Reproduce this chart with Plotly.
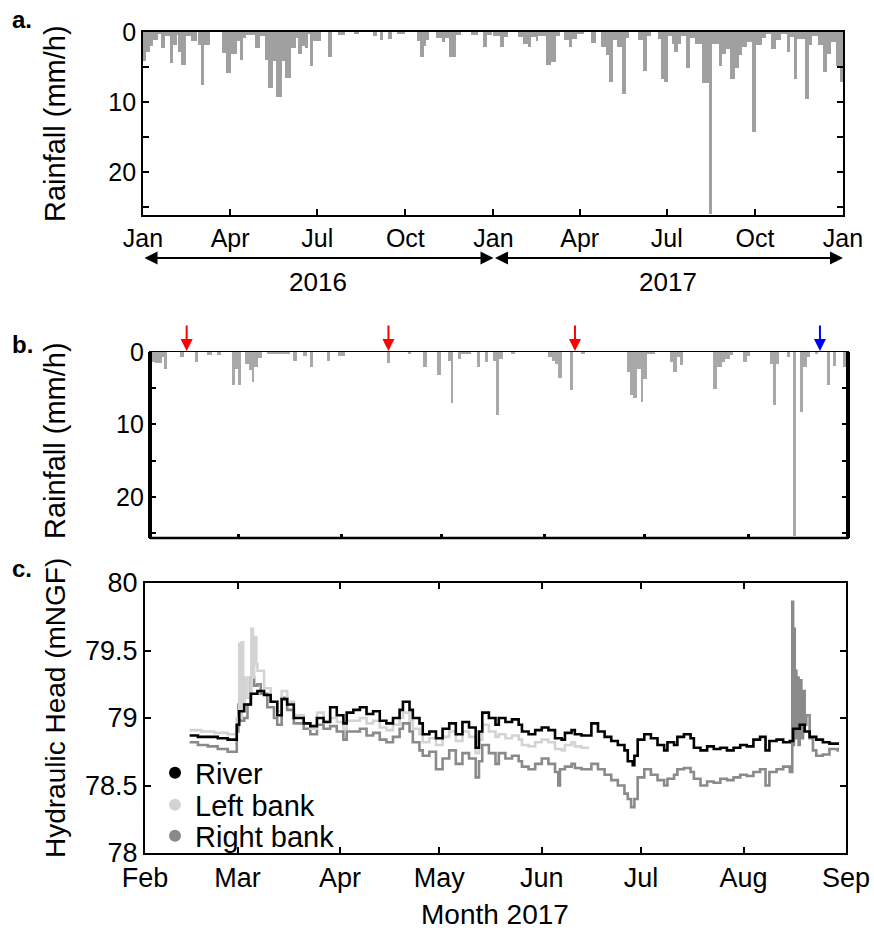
import plotly.graph_objects as go
import pandas as pd

# ---------------- data ----------------
# Panel a: rainfall 2016-2017, step change points (start date, mm/h)
rain_a_dates = [
    "2016-01-01", "2016-01-04", "2016-01-08", "2016-01-11", "2016-01-17", "2016-01-20", "2016-01-24",
    "2016-01-29", "2016-02-01", "2016-02-05", "2016-02-07", "2016-02-10", "2016-02-15", "2016-02-20",
    "2016-02-26", "2016-02-27", "2016-03-02", "2016-03-05", "2016-03-11", "2016-03-23", "2016-03-28",
    "2016-04-02", "2016-04-08", "2016-04-11", "2016-04-14", "2016-04-18", "2016-04-27", "2016-05-02",
    "2016-05-07", "2016-05-11", "2016-05-16", "2016-05-19", "2016-05-25", "2016-05-28", "2016-06-04",
    "2016-06-09", "2016-06-11", "2016-06-15", "2016-06-18", "2016-06-21", "2016-06-23", "2016-06-27",
    "2016-07-05", "2016-07-12", "2016-07-16", "2016-07-23", "2016-07-30", "2016-08-08", "2016-08-14",
    "2016-08-28", "2016-09-01", "2016-09-04", "2016-09-08", "2016-09-13", "2016-09-17", "2016-09-22",
    "2016-10-01", "2016-10-13", "2016-10-16", "2016-10-20", "2016-10-23", "2016-10-26", "2016-11-02",
    "2016-11-08", "2016-11-11", "2016-11-16", "2016-11-23", "2016-11-28", "2016-12-09", "2016-12-16",
    "2016-12-21", "2016-12-25", "2016-12-30",
    "2017-01-01", "2017-01-08", "2017-01-12", "2017-01-16", "2017-01-27", "2017-02-01", "2017-02-06",
    "2017-02-09", "2017-02-14", "2017-02-17", "2017-02-25", "2017-03-02", "2017-03-07", "2017-03-11",
    "2017-03-16", "2017-03-21", "2017-03-24", "2017-03-29", "2017-04-06", "2017-04-13", "2017-04-18",
    "2017-04-23", "2017-04-28", "2017-05-02", "2017-05-06", "2017-05-10", "2017-05-15", "2017-05-19",
    "2017-05-23", "2017-06-01", "2017-06-06", "2017-06-10", "2017-06-14", "2017-06-22", "2017-06-25",
    "2017-06-28", "2017-07-02", "2017-07-06", "2017-07-09", "2017-07-13", "2017-07-16", "2017-07-21",
    "2017-07-25", "2017-07-30", "2017-08-03", "2017-08-07", "2017-08-14", "2017-08-17", "2017-08-24",
    "2017-08-28", "2017-09-01", "2017-09-05", "2017-09-10", "2017-09-14", "2017-09-18", "2017-09-23",
    "2017-09-28", "2017-10-02", "2017-10-08", "2017-10-13", "2017-10-18", "2017-10-23", "2017-10-28",
    "2017-11-03", "2017-11-07", "2017-11-11", "2017-11-14", "2017-11-22", "2017-11-26", "2017-11-30",
    "2017-12-06", "2017-12-11", "2017-12-15", "2017-12-19", "2017-12-25", "2017-12-29",
]
rain_a_mm = [
    4.2, 2.8, 2.0, 1.1, 0.3, 2.3, 0.6,
    4.4, 1.8, 0.4, 2.8, 4.7, 0.6, 1.3,
    0.0, 1.8, 7.6, 1.8, 0.0, 3.0, 5.9,
    3.2, 1.3, 4.0, 0.9, 0.4, 2.3, 0.6,
    4.0, 8.0, 4.2, 9.3, 4.2, 6.5, 2.3,
    0.9, 3.2, 2.0, 2.3, 0.3, 4.9, 1.3,
    0.0, 3.5, 0.0, 0.4, 0.0, 0.2, 0.0,
    0.6, 0.0, 1.2, 0.0, 1.0, 0.0, 0.2,
    0.0, 1.3, 3.5, 2.0, 1.1, 0.0, 0.85,
    1.4, 0.8, 3.5, 0.4, 0.0, 0.4, 0.0,
    2.2, 0.4, 0.0,
    0.5, 2.2, 0.7, 0.0, 0.7, 1.7, 2.2,
    0.7, 1.3, 0.5, 4.7, 4.3, 0.5, 0.0,
    1.2, 2.1, 1.0, 0.3, 0.0, 1.5, 0.0,
    2.1, 3.3, 7.2, 1.2, 2.1, 8.8, 0.9,
    0.0, 1.2, 5.5, 0.5, 0.0, 1.0, 6.7,
    7.1, 0.5, 1.7, 2.9, 1.7, 0.5, 5.2,
    0.9, 1.7, 1.7, 7.3, 26.0, 1.7, 4.8,
    3.1, 2.4, 6.7, 5.2, 3.3, 2.1, 1.4,
    14.2, 1.9, 0.9, 0.3, 2.4, 1.2, 0.3,
    2.9, 0.7, 6.7, 1.0, 9.6, 1.9, 0.5,
    1.9, 5.7, 3.1, 1.4, 4.8, 7.1,
]
rain_a_end = "2018-01-01"

# Panel b: rainfall Feb-Aug 2017, step change points (start, mm/h)
rain_b_dates = [
    "2017-02-02 19:00", "2017-02-04 02:00", "2017-02-06 02:00", "2017-02-06 19:00", "2017-02-07 19:00",
    "2017-02-11 14:00", "2017-02-12 19:00", "2017-02-16 02:00", "2017-02-16 22:00",
    "2017-02-19 14:00", "2017-02-21 02:00", "2017-02-22 19:00", "2017-02-23 19:00",
    "2017-02-27 02:00", "2017-02-28 02:00", "2017-03-01 00:00", "2017-03-01 20:00",
    "2017-03-03 02:00", "2017-03-04 07:00", "2017-03-05 02:00", "2017-03-05 22:00", "2017-03-07 02:00",
    "2017-03-08 02:00", "2017-03-09 14:00", "2017-03-16 14:00", "2017-03-17 14:00", "2017-03-18 16:00",
    "2017-03-20 14:00", "2017-03-21 14:00", "2017-03-22 14:00", "2017-03-23 12:00",
    "2017-03-27 14:00", "2017-03-28 14:00", "2017-03-31 00:00", "2017-04-02 00:00",
    "2017-04-14 14:00", "2017-04-15 14:00", "2017-04-21 00:00", "2017-04-22 00:00",
    "2017-04-25 12:00", "2017-04-26 14:00", "2017-04-29 14:00", "2017-04-30 19:00",
    "2017-05-03 00:00", "2017-05-03 19:00", "2017-05-04 14:00", "2017-05-06 00:00", "2017-05-07 00:00",
    "2017-05-10 00:00", "2017-05-11 16:00", "2017-05-12 16:00", "2017-05-14 00:00", "2017-05-15 00:00",
    "2017-05-16 12:00", "2017-05-17 12:00", "2017-05-18 10:00", "2017-05-19 12:00",
    "2017-05-22 00:00", "2017-05-23 00:00",
    "2017-06-02 02:00", "2017-06-03 02:00", "2017-06-04 02:00", "2017-06-05 02:00", "2017-06-06 02:00",
    "2017-06-08 14:00", "2017-06-09 10:00", "2017-06-12 00:00", "2017-06-13 00:00",
    "2017-06-25 14:00", "2017-06-26 14:00", "2017-06-27 14:00", "2017-06-28 14:00", "2017-06-29 19:00",
    "2017-06-30 14:00", "2017-07-01 14:00", "2017-07-04 00:00",
    "2017-07-08 14:00", "2017-07-09 14:00", "2017-07-10 14:00", "2017-07-11 14:00", "2017-07-12 14:00",
    "2017-07-21 14:00", "2017-07-22 14:00", "2017-07-24 02:00", "2017-07-25 02:00", "2017-07-26 14:00",
    "2017-07-27 14:00", "2017-07-30 14:00", "2017-07-31 14:00", "2017-08-01 14:00",
    "2017-08-07 14:00", "2017-08-08 14:00", "2017-08-09 10:00", "2017-08-10 10:00",
    "2017-08-12 14:00", "2017-08-13 14:00", "2017-08-14 10:00", "2017-08-15 10:00",
    "2017-08-16 14:00", "2017-08-17 14:00", "2017-08-18 14:00", "2017-08-19 14:00",
    "2017-08-21 02:00", "2017-08-22 02:00", "2017-08-24 14:00", "2017-08-25 14:00",
    "2017-08-26 14:00", "2017-08-27 10:00", "2017-08-29 10:00", "2017-08-30 10:00",
]
rain_b_mm = [
    1.4, 1.5, 0.7, 2.3, 0.0,
    0.7, 0.0, 1.4, 0.0,
    0.4, 0.0, 0.4, 0.0,
    4.6, 2.3, 4.5, 0.0,
    1.6, 2.5, 4.2, 2.1, 0.8,
    0.0, 0.2, 0.0, 1.3, 0.0,
    0.6, 0.0, 2.1, 0.0,
    1.2, 0.0, 0.5, 0.0,
    1.5, 0.0, 0.2, 0.0,
    2.1, 0.0, 3.2, 0.0,
    1.2, 7.0, 0.0, 1.0, 0.3,
    0.0, 2.1, 0.0, 1.4, 0.0,
    1.2, 8.7, 0.9, 0.0,
    0.2, 0.0,
    0.7, 1.2, 1.6, 3.6, 0.0,
    5.3, 0.0, 0.2, 0.0,
    2.8, 6.0, 6.3, 2.3, 6.9,
    3.7, 0.2, 0.0,
    1.4, 2.7, 0.7, 1.8, 0.0,
    5.1, 2.1, 1.4, 0.9, 0.4,
    0.0, 1.4, 0.5, 0.0,
    1.6, 7.3, 1.6, 0.0,
    0.7, 0.0, 25.4, 0.0,
    8.3, 2.1, 0.7, 0.0,
    0.2, 0.0, 4.6, 0.0,
    1.9, 0.0, 2.1, 0.0,
]

# Panel c: hydraulic head (mNGF), step change points
river_dates = [
    "2017-02-14 12:00", "2017-02-17", "2017-02-20", "2017-02-23", "2017-02-26", "2017-02-28 18:00",
    "2017-03-01 12:00", "2017-03-03", "2017-03-05", "2017-03-07", "2017-03-09", "2017-03-11", "2017-03-13",
    "2017-03-14 08:00", "2017-03-16", "2017-03-18", "2017-03-21", "2017-03-23", "2017-03-25", "2017-03-27",
    "2017-03-29", "2017-03-31", "2017-04-02", "2017-04-03", "2017-04-05", "2017-04-07", "2017-04-09",
    "2017-04-11", "2017-04-13", "2017-04-15", "2017-04-17", "2017-04-19", "2017-04-20", "2017-04-22",
    "2017-04-23", "2017-04-25", "2017-04-26", "2017-04-28", "2017-04-30", "2017-05-02", "2017-05-04",
    "2017-05-06", "2017-05-08", "2017-05-10", "2017-05-12", "2017-05-13", "2017-05-14", "2017-05-16",
    "2017-05-18", "2017-05-19", "2017-05-21", "2017-05-23", "2017-05-25", "2017-05-26", "2017-05-28",
    "2017-05-30", "2017-06-01", "2017-06-03", "2017-06-05", "2017-06-07", "2017-06-08", "2017-06-10",
    "2017-06-11", "2017-06-13", "2017-06-16", "2017-06-18", "2017-06-20", "2017-06-22", "2017-06-24",
    "2017-06-26", "2017-06-27", "2017-06-28 12:00", "2017-06-29", "2017-06-30", "2017-07-02", "2017-07-04",
    "2017-07-06", "2017-07-08", "2017-07-09", "2017-07-11", "2017-07-12", "2017-07-14", "2017-07-16",
    "2017-07-17", "2017-07-19", "2017-07-21", "2017-07-23", "2017-07-25", "2017-07-27", "2017-07-29",
    "2017-07-31", "2017-08-02", "2017-08-04", "2017-08-06", "2017-08-07 16:00", "2017-08-08 20:00",
    "2017-08-11", "2017-08-13", "2017-08-15", "2017-08-16", "2017-08-18", "2017-08-19 12:00", "2017-08-21",
    "2017-08-23", "2017-08-25", "2017-08-27", "2017-08-29 12:00",
]
river_head = [
    78.87, 78.86, 78.86, 78.85, 78.84, 78.95,
    79.05, 79.10, 79.18, 79.20, 79.17, 79.12, 79.02,
    79.14, 79.10, 79.00, 78.96, 78.94, 79.00, 78.97,
    79.08, 79.02, 78.96, 79.04, 79.06, 79.08, 79.03,
    79.05, 78.98, 78.96, 79.00, 79.06, 79.12, 79.06,
    79.00, 78.96, 78.88, 78.90, 78.85, 78.92, 78.96,
    78.88, 78.97, 78.93, 78.78, 78.90, 79.04, 79.00,
    78.95, 79.00, 78.97, 78.99, 78.95, 78.90, 78.88,
    78.91, 78.93, 78.91, 78.85, 78.84, 78.89, 78.91,
    78.88, 78.87, 78.96, 78.90, 78.86, 78.83, 78.80,
    78.76, 78.68, 78.65, 78.72, 78.84, 78.88, 78.85,
    78.80, 78.76, 78.82, 78.80, 78.86, 78.88, 78.85,
    78.78, 78.76, 78.79, 78.77, 78.78, 78.76, 78.78,
    78.80, 78.79, 78.84, 78.86, 78.76, 78.83,
    78.84, 78.82, 78.83, 78.92, 78.95, 78.90, 78.86,
    78.84, 78.82, 78.81, 78.80,
]

left_dates = [
    "2017-02-14 12:00", "2017-02-18", "2017-02-22", "2017-02-26", "2017-02-28 18:00", "2017-03-01 12:00",
    "2017-03-01 20:00", "2017-03-02 06:00", "2017-03-02 16:00", "2017-03-03 04:00", "2017-03-04",
    "2017-03-05 04:00", "2017-03-05 16:00", "2017-03-06", "2017-03-06 16:00", "2017-03-07", "2017-03-09",
    "2017-03-11", "2017-03-13", "2017-03-14 08:00", "2017-03-16", "2017-03-18", "2017-03-21", "2017-03-23",
    "2017-03-25", "2017-03-27", "2017-03-29", "2017-03-31", "2017-04-02", "2017-04-03", "2017-04-07",
    "2017-04-09", "2017-04-11", "2017-04-13", "2017-04-15", "2017-04-17", "2017-04-19", "2017-04-20",
    "2017-04-22", "2017-04-23", "2017-04-25", "2017-04-26", "2017-04-28", "2017-04-30", "2017-05-02",
    "2017-05-04", "2017-05-06", "2017-05-08", "2017-05-10", "2017-05-12", "2017-05-13", "2017-05-14",
    "2017-05-16", "2017-05-18", "2017-05-19", "2017-05-21", "2017-05-23", "2017-05-25", "2017-05-26",
    "2017-05-28", "2017-05-30", "2017-06-01", "2017-06-03", "2017-06-05", "2017-06-07", "2017-06-08",
    "2017-06-10", "2017-06-11", "2017-06-13", "2017-06-15 08:00",
]
left_head = [
    78.91, 78.90, 78.89, 78.88, 79.00, 79.55,
    79.00, 79.56, 79.10, 79.30, 79.15,
    79.66, 79.30, 79.60, 79.40, 79.35, 79.22,
    79.12, 79.05, 79.20, 79.12, 79.02, 78.96, 78.92,
    79.04, 78.98, 79.00, 78.97, 78.92, 78.98, 79.00,
    78.96, 78.98, 78.93, 78.91, 78.95, 79.00, 79.04,
    78.98, 78.92, 78.88, 78.82, 78.85, 78.80, 78.86,
    78.90, 78.83, 78.90, 78.86, 78.74, 78.84, 78.95,
    78.90, 78.86, 78.88, 78.85, 78.87, 78.84, 78.80,
    78.79, 78.82, 78.84, 78.82, 78.77, 78.76, 78.80,
    78.82, 78.79, 78.78, 78.78,
]

right_dates = [
    "2017-02-14 12:00", "2017-02-17", "2017-02-20", "2017-02-23", "2017-02-26", "2017-02-28 18:00",
    "2017-03-01 06:00", "2017-03-02", "2017-03-03", "2017-03-04", "2017-03-05", "2017-03-06", "2017-03-07",
    "2017-03-08", "2017-03-10", "2017-03-12", "2017-03-13", "2017-03-14 08:00", "2017-03-16", "2017-03-18",
    "2017-03-21", "2017-03-23", "2017-03-25", "2017-03-27", "2017-03-29", "2017-03-31", "2017-04-02",
    "2017-04-03", "2017-04-07", "2017-04-09", "2017-04-11", "2017-04-13", "2017-04-15", "2017-04-17",
    "2017-04-19", "2017-04-20", "2017-04-22", "2017-04-23", "2017-04-25", "2017-04-26", "2017-04-28",
    "2017-04-30", "2017-05-02", "2017-05-04", "2017-05-06", "2017-05-08", "2017-05-10", "2017-05-12",
    "2017-05-13", "2017-05-14", "2017-05-16", "2017-05-18", "2017-05-19", "2017-05-21", "2017-05-23",
    "2017-05-25", "2017-05-26", "2017-05-28", "2017-05-30", "2017-06-01", "2017-06-03", "2017-06-05",
    "2017-06-06", "2017-06-06 12:00", "2017-06-08", "2017-06-10", "2017-06-11", "2017-06-13", "2017-06-16",
    "2017-06-18", "2017-06-20", "2017-06-22", "2017-06-24", "2017-06-26", "2017-06-27", "2017-06-28",
    "2017-06-29", "2017-06-30", "2017-07-02", "2017-07-04", "2017-07-06", "2017-07-08", "2017-07-09",
    "2017-07-11", "2017-07-12", "2017-07-14", "2017-07-16", "2017-07-17", "2017-07-19", "2017-07-21",
    "2017-07-23", "2017-07-25", "2017-07-27", "2017-07-29", "2017-07-31", "2017-08-02", "2017-08-04",
    "2017-08-06", "2017-08-07 16:00", "2017-08-08 20:00", "2017-08-11", "2017-08-13", "2017-08-15",
    "2017-08-15 18:00", "2017-08-16 00:00", "2017-08-16 06:00", "2017-08-16 12:00", "2017-08-16 18:00",
    "2017-08-17 00:00", "2017-08-17 08:00", "2017-08-17 16:00", "2017-08-18 00:00", "2017-08-18 12:00",
    "2017-08-19 00:00", "2017-08-19 12:00", "2017-08-20", "2017-08-21", "2017-08-22", "2017-08-23",
    "2017-08-25", "2017-08-27", "2017-08-29 12:00",
]
right_head = [
    78.82, 78.80, 78.79, 78.77, 78.75, 78.90,
    79.10, 78.98, 79.00, 79.10, 79.30, 79.24, 79.25,
    79.18, 79.08, 79.00, 78.95, 79.15, 79.06, 78.96,
    78.92, 78.88, 78.95, 78.92, 78.94, 78.90, 78.84,
    78.90, 78.92, 78.87, 78.89, 78.84, 78.82, 78.86,
    78.92, 78.96, 78.90, 78.82, 78.76, 78.72, 78.75,
    78.62, 78.70, 78.76, 78.66, 78.74, 78.70, 78.56,
    78.68, 78.80, 78.74, 78.66, 78.74, 78.70, 78.72,
    78.68, 78.64, 78.62, 78.66, 78.70, 78.66, 78.60,
    78.50, 78.62, 78.64, 78.66, 78.63, 78.62, 78.66,
    78.62, 78.58, 78.54, 78.50, 78.44, 78.40, 78.34,
    78.40, 78.56, 78.62, 78.58, 78.54, 78.50, 78.55,
    78.58, 78.62, 78.63, 78.60, 78.55, 78.50, 78.53,
    78.52, 78.55, 78.54, 78.56, 78.58, 78.57, 78.60,
    78.62, 78.50, 78.60, 78.62, 78.64, 78.60,
    79.86, 78.80, 79.66, 78.90, 79.35,
    78.85, 79.30, 78.80, 79.28, 78.85,
    79.20, 78.95, 79.02, 78.85, 78.76, 78.72,
    78.73, 78.77, 78.75,
]

# ticks and labels
a_tick_dates = ["2016-01-01", "2016-04-01", "2016-07-01", "2016-10-01", "2017-01-01",
                "2017-04-01", "2017-07-01", "2017-10-01", "2018-01-01"]
a_tick_text = ["Jan", "Apr", "Jul", "Oct", "Jan", "Apr", "Jul", "Oct", "Jan"]
c_tick_dates = ["2017-02-01", "2017-03-01", "2017-04-01", "2017-05-01", "2017-06-01",
                "2017-07-01", "2017-08-01", "2017-09-01"]
c_tick_text = ["Feb", "Mar", "Apr", "May", "Jun", "Jul", "Aug", "Sep"]
rain_tickvals = [0, 5, 10, 15, 20, 25]
rain_ticktext = ["0", "", "10", "", "20", ""]
head_tickvals = [78, 78.5, 79, 79.5, 80]
head_ticktext = ["78", "78.5", "79", "79.5", "80"]
year_labels = ["2016", "2017"]
year_spans = [("2016-01-01", "2017-01-01"), ("2017-01-01", "2018-01-01")]
red_arrow_dates = ["2017-02-13 14:00", "2017-04-15 03:00", "2017-06-10 02:00"]
blue_arrow_dates = ["2017-08-22 14:00"]

# ---------------- figure ----------------
W, H = 874, 931
FONT = "Liberation Sans, Arial, sans-serif"
NARROW = "Liberation Sans Narrow, Arial Narrow, Liberation Sans, sans-serif"


def to_dt(d):
    return pd.to_datetime(d, format="mixed")


def px_x(p):
    return p / W


def px_y(p):
    return 1 - p / H


def step_bars(dates, vals, end=None):
    t = list(to_dt(dates))
    if end is None:
        end = t[-1] + pd.Timedelta(days=1)
    ends = t[1:] + [pd.Timestamp(end)]
    widths = [(e - s).total_seconds() * 1000 for s, e in zip(t, ends)]
    return t, widths


fig = go.Figure()

xa, wa = step_bars(rain_a_dates, rain_a_mm, rain_a_end)
fig.add_trace(go.Bar(x=xa, y=rain_a_mm, width=wa, offset=0, marker=dict(color="#a0a0a0", line=dict(width=0)),
                     xaxis="x", yaxis="y", showlegend=False))

xb, wb = step_bars(rain_b_dates, rain_b_mm)
fig.add_trace(go.Bar(x=xb, y=rain_b_mm, width=wb, offset=0, marker=dict(color="#a8a8a8", line=dict(width=0)),
                     xaxis="x2", yaxis="y2", showlegend=False))

series = [
    ("River", river_dates, river_head, "#000000", "legend"),
    ("Left bank", left_dates, left_head, "#d3d3d3", "legend2"),
    ("Right bank", right_dates, right_head, "#8a8a8a", "legend3"),
]
# draw order: right bank, left bank, river on top
for name, d, v, col, lg in [series[2], series[1], series[0]]:
    fig.add_trace(go.Scatter(x=to_dt(d), y=v, mode="lines", line=dict(shape="hv", width=2.6, color=col),
                             xaxis="x3", yaxis="y3", showlegend=False, name=name))
for name, d, v, col, lg in series:
    fig.add_trace(go.Scatter(x=[None], y=[None], mode="markers", marker=dict(size=12, color=col),
                             xaxis="x3", yaxis="y3", name=name, legend=lg, showlegend=True))

axis_common = dict(showgrid=False, zeroline=False, showline=True, linecolor="black", ticks="inside",
                   tickcolor="black", automargin=False)

legend_common = dict(bgcolor="rgba(0,0,0,0)", font=dict(family=FONT, size=29, color="black"),
                     xanchor="left", yanchor="middle", itemsizing="trace", borderwidth=0)

fig.update_layout(
    width=W, height=H, margin=dict(l=0, r=0, t=0, b=0, autoexpand=False),
    paper_bgcolor="white", plot_bgcolor="white",
    font=dict(family=FONT, color="black"),
    bargap=0,
    xaxis=dict(axis_common, domain=[px_x(143), px_x(843)], anchor="y", type="date",
               range=["2016-01-01", "2018-01-01"], tickvals=a_tick_dates, ticktext=a_tick_text,
               ticklen=6, tickwidth=1.5, linewidth=1.8, mirror=True,
               tickfont=dict(family=NARROW, size=25)),
    yaxis=dict(axis_common, domain=[px_y(215), px_y(32)], anchor="x", range=[26.1, 0],
               tickvals=rain_tickvals, ticktext=rain_ticktext, ticklen=6, tickwidth=1.5, linewidth=1.8,
               mirror="ticks", tickfont=dict(size=25)),
    xaxis2=dict(axis_common, domain=[px_x(150), px_x(848)], anchor="y2", type="date",
                range=["2017-02-02 14:00", "2017-08-31 00:00"], tickvals=c_tick_dates, showticklabels=False,
                ticklen=4, tickwidth=3, linewidth=1.2, mirror=True),
    yaxis2=dict(axis_common, domain=[px_y(538), px_y(352)], anchor="x2", range=[25.7, 0],
                tickvals=rain_tickvals, ticktext=rain_ticktext, ticklen=6, tickwidth=1.5, linewidth=1.2,
                mirror="ticks", tickfont=dict(size=25)),
    xaxis3=dict(axis_common, domain=[px_x(145), px_x(846)], anchor="y3", type="date",
                range=["2017-02-01", "2017-09-01"], tickvals=c_tick_dates, ticktext=c_tick_text,
                ticklen=6, tickwidth=1.5, linewidth=2, mirror="ticks", tickfont=dict(size=27)),
    yaxis3=dict(axis_common, domain=[px_y(853), px_y(583)], anchor="x3", range=[78, 80],
                tickvals=head_tickvals, ticktext=head_ticktext, ticklen=6, tickwidth=1.5, linewidth=2,
                mirror="ticks", tickfont=dict(size=27)),
    legend=dict(legend_common, x=px_x(155), y=px_y(773)),
    legend2=dict(legend_common, x=px_x(155), y=px_y(805)),
    legend3=dict(legend_common, x=px_x(155), y=px_y(836)),
)

# thick frame pieces on panel b
for x0, y0, x1, y1, w in [(0, 0, 0, 1, 4), (1, 0, 1, 1, 4), (0, 0, 1, 0, 2.5)]:
    fig.add_shape(type="line", xref="x2 domain", yref="y2 domain", x0=x0, y0=y0, x1=x1, y1=y1,
                  line=dict(color="black", width=w), layer="above")

ann = []
# panel letters
for lbl, yy in [("a.", 20), ("b.", 345), ("c.", 568)]:
    ann.append(dict(text=f"<b>{lbl}</b>", x=px_x(10), y=px_y(yy), xref="paper", yref="paper",
                    xanchor="left", yanchor="middle", showarrow=False, font=dict(size=24)))
# y-axis titles
for txt, yy, fs in [("Rainfall (mm/h)", 124, 29), ("Rainfall (mm/h)", 441, 29),
                    ("Hydraulic Head (mNGF)", 708, 28)]:
    ann.append(dict(text=txt, x=px_x(55), y=px_y(yy), xref="paper", yref="paper", textangle=-90,
                    xanchor="center", yanchor="middle", showarrow=False, font=dict(size=fs)))
# x title panel c
ann.append(dict(text="Month 2017", x=px_x(495), y=px_y(914), xref="paper", yref="paper",
                xanchor="center", yanchor="middle", showarrow=False, font=dict(size=28)))
# year arrows for panel a
for (s, e), lbl in zip(year_spans, year_labels):
    ann.append(dict(x=e, ax=s, xref="x", axref="x", y=px_y(258), yref="paper", ay=0, ayref="pixel",
                    text="", showarrow=True, arrowhead=2, startarrowhead=2, arrowside="end+start",
                    arrowsize=1.3, startarrowsize=1.3, arrowwidth=2, arrowcolor="black", standoff=0,
                    startstandoff=0))
    mid = pd.Timestamp(s) + (pd.Timestamp(e) - pd.Timestamp(s)) / 2
    ann.append(dict(text=lbl, x=mid, xref="x", y=px_y(282), yref="paper", showarrow=False,
                    xanchor="center", yanchor="middle", font=dict(family=NARROW, size=26)))
# event arrows for panel b
for dates, col in [(red_arrow_dates, "#ff0000"), (blue_arrow_dates, "#0000ff")]:
    for d in dates:
        ann.append(dict(x=d, xref="x2", y=px_y(351), yref="paper", ax=0, ay=-27, text="", showarrow=True,
                        arrowhead=2, arrowsize=1.2, arrowwidth=2, arrowcolor=col, standoff=0))
fig.update_layout(annotations=ann)

fig.write_html("out.html", config={"displayModeBar": False},
               post_script="document.body.style.margin='0px';document.body.style.padding='0px';")
